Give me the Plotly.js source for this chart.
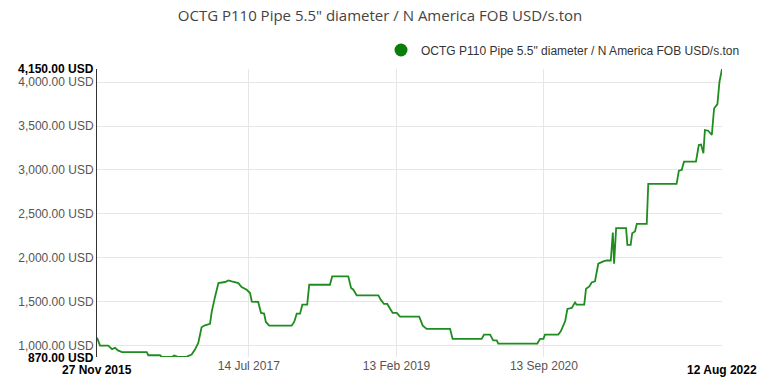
<!DOCTYPE html>
<html>
<head>
<meta charset="utf-8">
<script src="https://cdn.plot.ly/plotly-3.0.1.min.js"></script>
<style>html,body{margin:0;padding:0;background:#fff;}#chart{width:773px;height:387px;}</style>
</head>
<body>
<div id="chart"></div>
<script>
const seriesName = 'OCTG P110 Pipe 5.5" diameter / N America FOB USD/s.ton';
const dates = [
'2015-11-27','2015-12-09','2016-01-10','2016-01-25','2016-02-06','2016-02-17','2016-03-04','2016-06-09','2016-06-15','2016-07-31',
'2016-08-07','2016-09-15','2016-09-25','2016-10-11','2016-11-13','2016-12-02','2016-12-15','2016-12-28','2017-01-10','2017-01-23',
'2017-02-12','2017-02-19','2017-03-04','2017-03-17','2017-04-12','2017-04-25','2017-05-08','2017-06-03','2017-06-16','2017-07-06',
'2017-07-19','2017-07-26','2017-08-20','2017-08-31','2017-09-12','2017-09-19','2017-10-02','2017-12-29','2018-01-08','2018-01-18',
'2018-01-31','2018-02-09','2018-02-28','2018-03-08','2018-05-28','2018-06-06','2018-08-08','2018-08-19','2018-08-28','2018-09-10',
'2018-12-04','2018-12-13','2018-12-26','2019-01-08','2019-01-19','2019-01-29','2019-02-14','2019-02-27','2019-05-13','2019-05-27',
'2019-06-11','2019-09-11','2019-09-21','2020-01-13','2020-01-22','2020-02-15','2020-02-27','2020-03-12','2020-03-18','2020-08-18',
'2020-08-29','2020-09-11','2020-09-17','2020-11-08','2020-11-18','2020-11-26','2020-12-05','2020-12-14','2020-12-31','2021-01-13',
'2021-01-19','2021-02-18','2021-02-25','2021-03-10','2021-03-19','2021-04-01','2021-04-14','2021-05-04','2021-05-17','2021-06-02',
'2021-06-10','2021-06-15','2021-06-23','2021-08-01','2021-08-06','2021-08-19','2021-08-25','2021-09-05','2021-09-12','2021-10-21',
'2021-10-27','2022-02-15','2022-02-24','2022-03-07','2022-03-16','2022-05-02','2022-05-13','2022-05-22','2022-05-31','2022-06-06',
'2022-06-19','2022-07-03','2022-07-12','2022-07-25','2022-08-02','2022-08-12'
];
const prices = [
1090,1000,1000,960,975,945,925,925,890,890,
870,870,886,870,875,898,955,1030,1208,1231,
1247,1390,1560,1712,1724,1742,1731,1712,1667,1636,
1599,1500,1497,1372,1364,1269,1227,1227,1269,1364,
1364,1466,1466,1693,1693,1788,1788,1655,1636,1572,
1572,1523,1474,1474,1420,1372,1372,1330,1330,1227,
1190,1190,1076,1076,1125,1125,1060,1060,1023,1023,
1076,1076,1125,1125,1163,1220,1276,1417,1428,1492,
1466,1466,1648,1674,1719,1731,1932,1958,1969,1969,
2288,1932,2337,2337,2148,2148,2280,2299,2386,2386,
2841,2841,2992,3000,3094,3094,3284,3290,3190,3455,
3447,3398,3700,3750,4003,4150
];
const xTickVals = ['2017-07-14','2019-02-13','2020-09-13'];
const xTickText = ['14 Jul 2017','13 Feb 2019','13 Sep 2020'];
const xEnds = ['2015-11-27','2022-08-12'];
const xEndText = ['27 Nov 2015','12 Aug 2022'];
const yEnds = [870, 4150];
const yEndText = ['870.00 USD','4,150.00 USD'];

const lineColor = '#1e8c1e';
const traces = [
  {x: dates, y: prices, type: 'scatter', mode: 'lines', line: {color: lineColor, width: 1.8},
   name: seriesName, showlegend: false, hoverinfo: 'skip'},
  {x: [null], y: [null], type: 'scatter', mode: 'markers', name: seriesName,
   marker: {color: '#0b7d0b', size: 13, symbol: 'circle'}, showlegend: true}
];

const annotations = [];
xEnds.forEach((d, i) => annotations.push({
  x: d, xref: 'x', y: 0, yref: 'paper', yanchor: 'top', xanchor: 'center', yshift: -4,
  text: '<b>' + xEndText[i] + '</b>', showarrow: false,
  font: {family: 'Liberation Sans, Arial, sans-serif', size: 12, color: '#000'}
}));
yEnds.forEach((v, i) => annotations.push({
  x: 0, xref: 'paper', y: v, yref: 'y', xanchor: 'right', yanchor: 'middle', xshift: -1,
  yshift: (v === 870 ? -1 : 0),
  text: '<b>' + yEndText[i] + '</b>', showarrow: false,
  font: {family: 'Liberation Sans, Arial, sans-serif', size: 12, color: '#000'}
}));

const layout = {
  width: 773, height: 387,
  margin: {l: 97, r: 51, t: 69, b: 30},
  paper_bgcolor: '#fff', plot_bgcolor: '#fff',
  font: {family: 'Liberation Sans, Arial, sans-serif', size: 12, color: '#555'},
  title: {text: seriesName, x: 380/773, xref: 'container', xanchor: 'center',
          y: 1 - 16/387, yref: 'container', yanchor: 'middle',
          font: {family: 'Open Sans, sans-serif', size: 15, color: '#444'}},
  showlegend: true,
  legend: {x: 745/773, xref: 'container', xanchor: 'right', y: 1 - 50/387, yref: 'container', yanchor: 'middle',
           orientation: 'h', bgcolor: 'rgba(0,0,0,0)',
           font: {family: 'Liberation Sans, Arial, sans-serif', size: 12, color: '#333'}},
  xaxis: {type: 'date', range: ['2015-11-27', '2022-08-12'], tickmode: 'array',
          tickvals: xTickVals, ticktext: xTickText, showgrid: true, gridcolor: '#e6e6e6',
          showline: false, zeroline: false, ticks: '', tickfont: {size: 12, color: '#555'}},
  yaxis: {range: [870, 4150], tick0: 1000, dtick: 500, tickformat: ',.2f', ticksuffix: ' USD',
          showgrid: true, gridcolor: '#e6e6e6', showline: true, linecolor: '#333', linewidth: 1,
          zeroline: false, ticks: '', tickfont: {size: 12, color: '#555'}},
  annotations: annotations,
  hovermode: false
};
Plotly.newPlot('chart', traces, layout, {displayModeBar: false, staticPlot: true});
</script>
</body>
</html>
